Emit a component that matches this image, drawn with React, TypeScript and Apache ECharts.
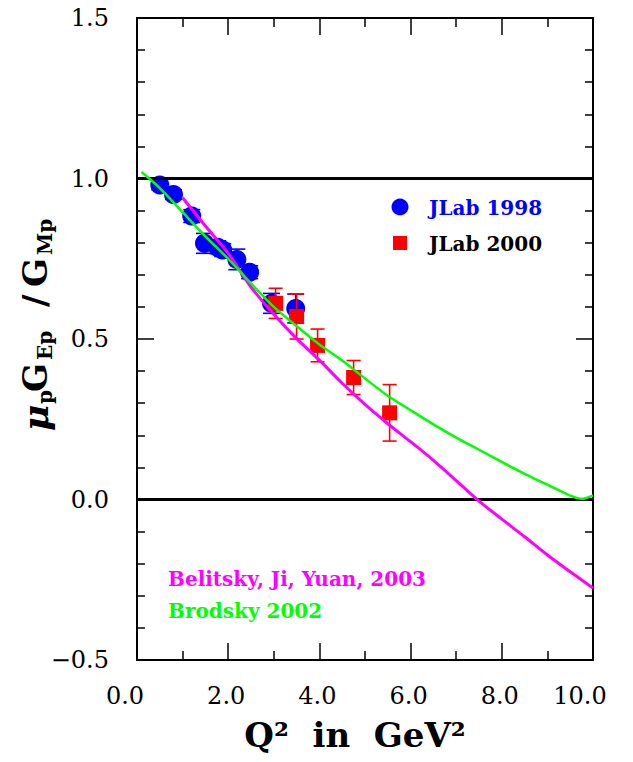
import React, { useEffect, useRef } from "react";
import * as echarts from "echarts";

// JLab 1998 (blue circles)
const jlab1998Q2 = [0.5, 0.8, 1.2, 1.48, 1.77, 1.88, 2.19, 2.47, 2.95, 3.48];
const jlab1998R = [0.98, 0.95, 0.883, 0.798, 0.786, 0.777, 0.748, 0.708, 0.611, 0.595];
const jlab1998Err = [0.015, 0.015, 0.02, 0.031, 0.02, 0.02, 0.032, 0.02, 0.031, 0.045];

// JLab 2000 (red squares)
const jlab2000Q2 = [3.04, 3.5, 3.96, 4.75, 5.54];
const jlab2000R = [0.611, 0.57, 0.48, 0.38, 0.27];
const jlab2000Err = [0.047, 0.07, 0.051, 0.053, 0.088];

// Belitsky, Ji, Yuan 2003 (magenta curve)
const bjyQ2 = [1.0, 1.5, 2.0, 2.5, 3.0, 3.5, 4.0, 4.5, 5.0, 5.5, 6.0, 6.5, 7.0, 7.5, 8.0, 8.5, 9.0, 9.5, 10.0];
const bjyR = [0.94, 0.852, 0.767, 0.662, 0.577, 0.501, 0.434, 0.362, 0.296, 0.236, 0.18, 0.122, 0.059, -0.005, -0.061, -0.116, -0.173, -0.225, -0.276];

// Brodsky 2002 (green curve)
const brodQ2 = [0.1, 0.5, 1.0, 1.5, 2.0, 2.5, 3.0, 3.5, 4.0, 4.5, 5.0, 5.5, 6.0, 6.5, 7.0, 7.5, 8.0, 8.5, 9.0, 9.5, 9.75, 10.0];
const brodR = [1.02, 0.97, 0.895, 0.82, 0.75, 0.673, 0.6, 0.54, 0.483, 0.433, 0.377, 0.323, 0.278, 0.234, 0.193, 0.155, 0.117, 0.08, 0.046, 0.012, 0.002, 0.013];

// Horizontal reference lines
const referenceLines = [0, 1];

// Axis ranges / ticks
const xRange = [0, 10];
const xStep = 2;
const yRange = [-0.5, 1.5];
const yStep = 0.5;

const legendLabels = ["JLab 1998", "JLab 2000"];
const curveLabels = ["Belitsky, Ji, Yuan, 2003", "Brodsky 2002"];

const SERIF = "DejaVu Serif";
const LABEL_FONT = "bold 20px 'DejaVu Serif'";

function errorRenderer(color: string, capW: number) {
  return (params: any, api: any) => {
    const x = api.value(0);
    const y = api.value(1);
    const e = api.value(2);
    const top = api.coord([x, y + e]);
    const bot = api.coord([x, y - e]);
    const hw = capW / 2;
    const style = { stroke: color, lineWidth: 1.6 };
    return {
      type: "group",
      children: [
        { type: "line", shape: { x1: top[0], y1: top[1], x2: bot[0], y2: bot[1] }, style },
        { type: "line", shape: { x1: top[0] - hw, y1: top[1], x2: top[0] + hw, y2: top[1] }, style },
        { type: "line", shape: { x1: bot[0] - hw, y1: bot[1], x2: bot[0] + hw, y2: bot[1] }, style },
      ],
    };
  };
}

function fmt(v: number) {
  return v.toFixed(1).replace("-", "\u2212");
}

export default function App() {
  const ref = useRef<HTMLDivElement>(null);
  useEffect(() => {
    if (!ref.current) return;
    const chart = echarts.init(ref.current, null, { renderer: "svg" });

    const axisCommon = {
      type: "value" as const,
      axisLine: { show: true, onZero: false, lineStyle: { color: "#000", width: 2 } },
      axisTick: { show: true, inside: true, length: 17, lineStyle: { color: "#000", width: 1.5 } },
      splitLine: { show: false },
    };

    const xLabelFmt = (v: number) => {
      const s = fmt(v);
      if (v === xRange[0]) return "{first|" + s + "}";
      if (v === xRange[1]) return "{last|" + s + "}";
      return "{mid|" + s + "}";
    };
    const xRich = {
      first: { fontFamily: SERIF, fontSize: 24, color: "#000", padding: [0, 24, 0, 0] },
      last: { fontFamily: SERIF, fontSize: 24, color: "#000", padding: [0, 26, 0, 0] },
      mid: { fontFamily: SERIF, fontSize: 24, color: "#000", padding: [0, 4, 0, 0] },
    };

    const yTitle = [
      { t: "\u03bc", at: 0, sub: false, italic: true, size: 36 },
      { t: "p", at: 27, sub: true },
      { t: "G", at: 39, sub: false },
      { t: "Ep", at: 71, sub: true },
      { t: "/", at: 124, sub: false },
      { t: "G", at: 144, sub: false },
      { t: "Mp", at: 176, sub: true },
    ];

    chart.setOption({
      animation: false,
      backgroundColor: "#fff",
      grid: { left: 137, right: 40, top: 18, bottom: 102, containLabel: false },
      xAxis: [
        {
          ...axisCommon,
          min: xRange[0],
          max: xRange[1],
          interval: xStep,
          position: "bottom",
          minorTick: { show: true, splitNumber: 2, length: 9, lineStyle: { color: "#000", width: 1.5 } },
          axisLabel: { show: true, margin: 24, formatter: xLabelFmt, rich: xRich },
        },
        {
          ...axisCommon,
          min: xRange[0],
          max: xRange[1],
          interval: xStep,
          position: "top",
          minorTick: { show: true, splitNumber: 2, length: 9, lineStyle: { color: "#000", width: 1.5 } },
          axisLabel: { show: false },
        },
      ],
      yAxis: [
        {
          ...axisCommon,
          min: yRange[0],
          max: yRange[1],
          interval: yStep,
          position: "left",
          minorTick: { show: true, splitNumber: 5, length: 8, lineStyle: { color: "#000", width: 1.5 } },
          axisLabel: {
            show: true,
            margin: 28,
            formatter: fmt,
            fontFamily: SERIF,
            fontSize: 24,
            color: "#000",
          },
        },
        {
          ...axisCommon,
          min: yRange[0],
          max: yRange[1],
          interval: yStep,
          position: "right",
          minorTick: { show: true, splitNumber: 5, length: 8, lineStyle: { color: "#000", width: 1.5 } },
          axisLabel: { show: false },
        },
      ],
      series: [
        {
          name: legendLabels[0] + " errors",
          type: "custom",
          renderItem: errorRenderer("#0000ff", 17),
          data: jlab1998Q2.map((x, i) => [x, jlab1998R[i], jlab1998Err[i]]),
          encode: { x: 0, y: 1 },
          z: 2,
          silent: true,
        },
        {
          name: legendLabels[0],
          type: "scatter",
          symbol: "circle",
          symbolSize: 19,
          itemStyle: { color: "#0000ff", opacity: 1 },
          data: jlab1998Q2.map((x, i) => [x, jlab1998R[i]]),
          z: 3,
        },
        {
          name: legendLabels[1] + " errors",
          type: "custom",
          renderItem: errorRenderer("#ff0000", 14),
          data: jlab2000Q2.map((x, i) => [x, jlab2000R[i], jlab2000Err[i]]),
          encode: { x: 0, y: 1 },
          z: 4,
          silent: true,
        },
        {
          name: legendLabels[1],
          type: "scatter",
          symbol: "rect",
          symbolSize: 15,
          itemStyle: { color: "#ff0000", opacity: 1 },
          data: jlab2000Q2.map((x, i) => [x, jlab2000R[i]]),
          z: 5,
        },
        {
          name: curveLabels[0],
          type: "line",
          showSymbol: false,
          smooth: 0.3,
          lineStyle: { color: "#ff00ff", width: 3 },
          data: bjyQ2.map((x, i) => [x, bjyR[i]]),
          z: 6,
          markLine: {
            silent: true,
            symbol: "none",
            label: { show: false },
            lineStyle: { color: "#000", width: 3, type: "solid" },
            data: referenceLines.map((v) => ({ yAxis: v })),
          },
        },
        {
          name: curveLabels[1],
          type: "line",
          showSymbol: false,
          smooth: 0.3,
          lineStyle: { color: "#00ff00", width: 2.5 },
          data: brodQ2.map((x, i) => [x, brodR[i]]),
          z: 7,
        },
      ],
      graphic: [
        // legend
        { type: "circle", shape: { cx: 400, cy: 207, r: 8.5 }, style: { fill: "#0000ff" }, z: 10 },
        {
          type: "text",
          x: 429,
          y: 208,
          style: { text: legendLabels[0], fill: "#0000ff", font: LABEL_FONT, verticalAlign: "middle" },
          z: 10,
        },
        { type: "rect", shape: { x: 393, y: 236, width: 14, height: 14 }, style: { fill: "#ff0000" }, z: 10 },
        {
          type: "text",
          x: 429,
          y: 244,
          style: { text: legendLabels[1], fill: "#000", font: LABEL_FONT, verticalAlign: "middle" },
          z: 10,
        },
        // curve labels
        {
          type: "text",
          x: 168,
          y: 579,
          style: { text: curveLabels[0], fill: "#ff00ff", font: LABEL_FONT, verticalAlign: "middle" },
          z: 10,
        },
        {
          type: "text",
          x: 168,
          y: 611,
          style: { text: curveLabels[1], fill: "#00ff00", font: LABEL_FONT, verticalAlign: "middle" },
          z: 10,
        },
        // x title
        {
          type: "text",
          x: 355,
          y: 735,
          style: {
            text: "Q\u00b2  in  GeV\u00b2",
            fill: "#000",
            font: "bold 34px '" + SERIF + "'",
            align: "center",
            verticalAlign: "middle",
          },
          z: 10,
        },
        // y title
        {
          type: "group",
          x: 35,
          y: 431,
          rotation: Math.PI / 2,
          z: 10,
          children: yTitle.map((p: any) => ({
            type: "text",
            x: p.at,
            y: p.sub ? 10 : 0,
            style: {
              text: p.t,
              fill: "#000",
              font: (p.italic ? "italic " : "") + "bold " + (p.sub ? 20 : p.size || 34) + "px '" + SERIF + "'",
              align: "left",
              verticalAlign: "middle",
            },
          })),
        },
      ],
    });
    return () => chart.dispose();
  }, []);
  return (
    <div
      ref={ref}
      style={{ position: "fixed", left: 0, top: 0, width: 633, height: 762, background: "#fff" }}
    />
  );
}
